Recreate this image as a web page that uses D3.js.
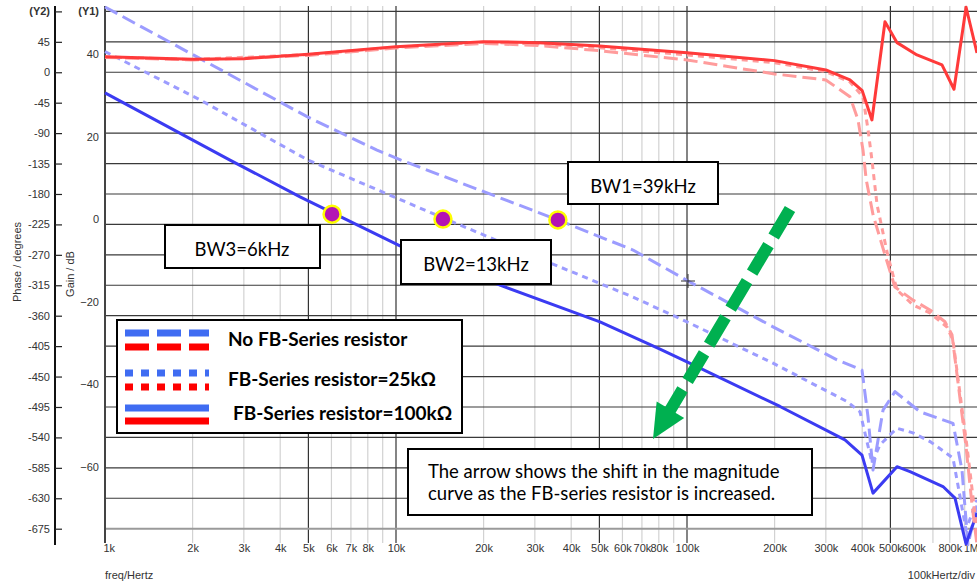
<!DOCTYPE html>
<html><head><meta charset="utf-8">
<script src="https://cdn.jsdelivr.net/npm/d3@7/dist/d3.min.js"></script>
<style>
html,body{margin:0;padding:0;background:#fff;}
svg{display:block;}
.tick text{font-family:"Liberation Sans",Arial,sans-serif;font-size:11px;fill:#333;}
</style></head>
<body>
<svg id="chart" width="977" height="582"></svg>
<script>
// ---------- data ----------
// Gain (Y1, dB) curves
const gainNoFB_f  = [1000,4985,8603,10404,36030,65230,100800,197500,327700,399400,418800,435700,471600,518500,632100,820600,881000,924000,992000];
const gainNoFB_db = [51.4,24.7,16.7,14.3,-0.2,-7.5,-15.0,-26.1,-34.1,-36.6,-47.9,-60.8,-46.3,-41.8,-46.7,-49.5,-60.8,-78.9,-69.3];

const gain25k_f  = [1000,2121,4985,14500,33820,65230,100000,197500,354600,393100,432300,460500,498400,526800,598000,684100,820600,909700,992000];
const gain25k_db = [40.6,28.9,14.3,0.3,-10.6,-18.9,-24.9,-34.9,-44.2,-46.7,-59.1,-54.7,-52.3,-50.7,-51.8,-53.9,-57.9,-75.3,-68.0];

const gain100k_f  = [1000,2689,4680,10320,22770,50230,80780,100000,208700,349000,399400,435700,526800,584000,758000,833700,909700,992000];
const gain100k_db = [30.6,14.3,5.4,-6.5,-16.0,-24.9,-31.5,-34.6,-45.4,-53.5,-57.2,-66.4,-60.0,-61.2,-64.8,-67.6,-78.7,-71.2];

// Phase (Y2, degrees) curves
const phaseNoFB_f   = [1000,2000,5000,10000,20000,31000,50000,100000,200000,300000,363000,387000,402500,413000,436000,479000,518000,598000,684000,770000,814000,910000,954000,992000];
const phaseNoFB_deg = [21.9,18.2,24.8,35.9,42.6,39.6,31.9,18.2,-2.5,-11.4,-36.1,-70.5,-115,-159,-211,-270,-317.5,-337,-351.5,-369,-388,-554,-640,-699];

const phase25k_f   = [1000,2000,5000,10000,20000,31000,50000,100000,200000,300000,363000,402500,419000,432000,450000,491000,527000,598000,684000,782500,820000,917000,961000,992000];
const phase25k_deg = [22.6,18.8,26.2,37.1,44.5,41.9,36.4,25.6,14.2,0.9,-14.3,-36.5,-85.3,-129.7,-196.2,-273.1,-322,-344,-356,-376.7,-396,-554,-628,-680];

const phase100k_f   = [1000,2000,3000,5000,10000,20000,31000,50000,100000,200000,300000,363000,400000,432000,479000,527000,617000,752000,827000,910000,992000];
const phase100k_deg = [23.1,19.2,20.1,26.6,37.9,45.3,43.8,38.9,29.0,17.2,3.4,-11.4,-27.2,-70.5,74.8,43.8,25.6,10.8,-25.1,96.1,28.5];

// Bandwidth markers (0 dB crossings)
const bwFreqs = [6030, 14500, 36000];
const bwGains = [1.2, 0.0, -0.2];

// Axis ticks
const xTickValues = [1e3,2e3,3e3,4e3,5e3,6e3,7e3,8e3,1e4,2e4,3e4,4e4,5e4,6e4,7e4,8e4,1e5,2e5,3e5,4e5,5e5,6e5,8e5,1e6];
const xTickLabels = ["1k","2k","3k","4k","5k","6k","7k","8k","10k","20k","30k","40k","50k","60k","70k","80k","100k","200k","300k","400k","500k","600k","800k","1M"];
const xDarkLines  = [5e3,1e4,5e4,1e5,5e5];
const phaseTicks  = [90,45,0,-45,-90,-135,-180,-225,-270,-315,-360,-405,-450,-495,-540,-585,-630,-675];
const gainTicks   = [40,20,0,-20,-40,-60];

// ---------- scales ----------
const svg = d3.select("#chart");
const x = d3.scaleLog().domain([1e3,1e6]).range([105,978]);
const yP = d3.scaleLinear().domain([-675,90]).range([528.7,11.4]);
const yG = d3.scaleLinear().domain([-75.02,50.33]).range([528.7,11.4]);

// ---------- grid ----------
const gridF = [];
for (let dec=1e3; dec<1e6; dec*=10) for (let m=1;m<10;m++) gridF.push(m*dec);
gridF.push(1e6);
const g = svg.append("g");
g.selectAll("line.v").data(gridF.filter(f=>f>1e3)).join("line")
  .attr("x1",d=>x(d)).attr("x2",d=>x(d)).attr("y1",6).attr("y2",543)
  .attr("stroke",d=>xDarkLines.includes(d)?"#333":"#d2d2d2").attr("stroke-width",1.2);
g.selectAll("line.h").data(phaseTicks.filter(d=>d>-675)).join("line")
  .attr("x1",105).attr("x2",977).attr("y1",d=>yP(d)).attr("y2",d=>yP(d))
  .attr("stroke","#3a3a3a").attr("stroke-width",1.2);
// x axis baseline
svg.append("line").attr("x1",105).attr("x2",977).attr("y1",yP(-675)).attr("y2",yP(-675))
  .attr("stroke","#9a9a9a").attr("stroke-width",2);
// Y1 axis line
svg.append("line").attr("x1",105).attr("x2",105).attr("y1",6).attr("y2",543)
  .attr("stroke","#444").attr("stroke-width",2);
// Y2 axis line
svg.append("line").attr("x1",55).attr("x2",55).attr("y1",6).attr("y2",545)
  .attr("stroke","#111").attr("stroke-width",2);

// Y2 axis (phase)
const ay2 = svg.append("g").attr("transform","translate(55,0)")
  .call(d3.axisLeft(yP).tickValues(phaseTicks).tickSizeInner(-7).tickSizeOuter(0).tickPadding(5)
        .tickFormat(d=>d===90?"(Y2)":d));
ay2.select(".domain").remove();
ay2.selectAll(".tick line").attr("stroke","#222").attr("stroke-width",1.2);
ay2.selectAll(".tick text").filter(d=>d===90).style("font-weight","bold");

// Y1 axis (gain)
const ay1 = svg.append("g").attr("transform","translate(105,0)")
  .call(d3.axisLeft(yG).tickValues(gainTicks).tickSize(0).tickPadding(6));
ay1.select(".domain").remove();
svg.append("text").attr("x",99).attr("y",yP(90)).attr("dy","0.32em").attr("text-anchor","end")
  .style("font-family","Liberation Sans, Arial, sans-serif").style("font-size","11px").style("font-weight","bold").style("fill","#333").text("(Y1)");

// X axis
const ax = svg.append("g").attr("transform",`translate(0,${yP(-675)})`)
  .call(d3.axisBottom(x).tickValues(xTickValues).tickSize(0).tickPadding(16)
        .tickFormat((d,i)=>xTickLabels[i]));
ax.select(".domain").remove();
ax.selectAll(".tick text").filter(d=>d===1e3).attr("text-anchor","start").attr("x",-2);
ax.selectAll(".tick text").filter(d=>d===1e6).attr("text-anchor","end").attr("x",0).style("font-size","10.5px");

// axis titles
const axFont = t=>t.style("font-family","Liberation Sans, Arial, sans-serif").style("font-size","11px").style("fill","#333");
axFont(svg.append("text").attr("transform","translate(21,262) rotate(-90)").attr("text-anchor","middle").text("Phase / degrees"));
axFont(svg.append("text").attr("transform","translate(74,274) rotate(-90)").attr("text-anchor","middle").text("Gain / dB"));
axFont(svg.append("text").attr("x",105).attr("y",579).text("freq/Hertz"));
axFont(svg.append("text").attr("x",975).attr("y",579).attr("text-anchor","end").text("100kHertz/div"));

// ---------- curves ----------
const toPts = (fs,vs)=>fs.map((f,i)=>[f,vs[i]]);
const lineG = d3.line().x(d=>x(d[0])).y(d=>yG(d[1]));
const lineP = d3.line().x(d=>x(d[0])).y(d=>yP(d[1]));
const curves = [
  {pts:toPts(gainNoFB_f,gainNoFB_db), gen:lineG, color:"#9c9cff", dash:"14,6"},
  {pts:toPts(gain25k_f,gain25k_db), gen:lineG, color:"#9c9cff", dash:"6,5"},
  {pts:toPts(gain100k_f,gain100k_db), gen:lineG, color:"#3b3bf2", dash:null},
  {pts:toPts(phaseNoFB_f,phaseNoFB_deg), gen:lineP, color:"#ff9c9c", dash:"14,6"},
  {pts:toPts(phase25k_f,phase25k_deg), gen:lineP, color:"#ff9c9c", dash:"6,5"},
  {pts:toPts(phase100k_f,phase100k_deg), gen:lineP, color:"#ff3a3a", dash:null}
];
svg.append("g").selectAll("path").data(curves).join("path")
  .attr("d",d=>d.gen(d.pts)).attr("fill","none").attr("stroke",d=>d.color)
  .attr("stroke-width",3).attr("stroke-linejoin","round")
  .attr("stroke-dasharray",d=>d.dash);

// crosshair cursor
svg.append("path").attr("d","M681,281H695M688,274V288").attr("stroke","#333").attr("stroke-width",1);

// ---------- annotation boxes ----------
const calib = "Lato, 'Open Sans', sans-serif";
function box(x0,y0,w,h){
  svg.append("rect").attr("x",x0).attr("y",y0).attr("width",w).attr("height",h)
    .attr("fill","#fff").attr("stroke","#000").attr("stroke-width",2);
}
function txt(x0,y0,s,size,weight,anchor){
  svg.append("text").attr("x",x0).attr("y",y0).attr("text-anchor",anchor||"start")
    .style("font-family",calib).style("font-size",size+"px").style("font-weight",weight||"normal")
    .style("fill","#000").text(s);
}
box(568,162,150,42); txt(643,192.5,"BW1=39kHz",18.5,"normal","middle");
box(401,240,150,44); txt(476,271,"BW2=13kHz",18.5,"normal","middle");
box(165,225,155,43); txt(242,255.5,"BW3=6kHz",18.5,"normal","middle");
box(408,449,404,66);
txt(428,478,"The arrow shows the shift in the magnitude",18.5);
txt(428,500,"curve as the FB-series resistor is increased.",18.5);

// legend
box(117,320,345,113);
const legendRows = [
  {label:"No FB-Series resistor", dash:"24,8", yb:333, yr:347, tx:228, ty:346},
  {label:"FB-Series resistor=25k\u03A9", dash:"8,8", yb:373, yr:387, tx:228, ty:386},
  {label:"FB-Series resistor=100k\u03A9", dash:null, yb:408, yr:421, tx:233, ty:420}
];
legendRows.forEach(r=>{
  svg.append("line").attr("x1",125).attr("x2",209).attr("y1",r.yb).attr("y2",r.yb)
    .attr("stroke","#3f6cf2").attr("stroke-width",7).attr("stroke-dasharray",r.dash);
  svg.append("line").attr("x1",125).attr("x2",209).attr("y1",r.yr).attr("y2",r.yr)
    .attr("stroke","#ff0000").attr("stroke-width",7).attr("stroke-dasharray",r.dash);
  txt(r.tx,r.ty,r.label,19,"bold");
});

// ---------- BW markers ----------
svg.append("g").selectAll("circle").data(bwFreqs.map((f,i)=>[f,bwGains[i]])).join("circle")
  .attr("cx",d=>x(d[0])).attr("cy",d=>yG(d[1])).attr("r",8.5)
  .attr("fill","#b414b4").attr("stroke","#ffff00").attr("stroke-width",2.5);

// ---------- green arrow ----------
const a0=[790,209], tip=[653,439];
const dx=tip[0]-a0[0], dy=tip[1]-a0[1], L=Math.hypot(dx,dy), ux=dx/L, uy=dy/L, nx=-uy, ny=ux;
const hl=34, hw=16;
const bc=[tip[0]-hl*ux, tip[1]-hl*uy];
svg.append("line").attr("x1",a0[0]).attr("y1",a0[1]).attr("x2",bc[0]+4*ux).attr("y2",bc[1]+4*uy)
  .attr("stroke","#00b050").attr("stroke-width",12).attr("stroke-dasharray","32,10");
svg.append("path").attr("d",`M${tip[0]},${tip[1]}L${bc[0]+hw*nx},${bc[1]+hw*ny}L${bc[0]-hw*nx},${bc[1]-hw*ny}Z`)
  .attr("fill","#00b050");
</script>
</body></html>
